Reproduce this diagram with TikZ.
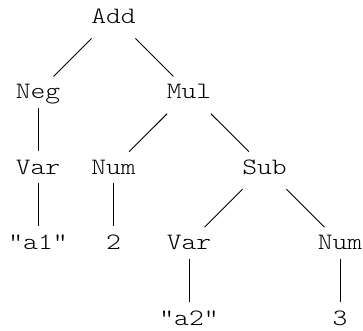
\documentclass[tikz,border=0pt]{standalone}
\usepackage{fontspec}
\setmonofont[FakeStretch=1.2]{Latin Modern Mono Light}
\begin{document}
\begin{tikzpicture}[x=1pt,y=-1pt,
  lbl/.style={font=\ttfamily\fontsize{23.5}{23.5}\selectfont, inner sep=0pt, text height=14pt, text depth=0pt, anchor=center},
  edge/.style={draw=black, line width=0.9pt},
  dg/.style={edge, shorten <=31pt, shorten >=22pt},
  vt/.style={edge, shorten <=16pt, shorten >=16.5pt}]
\useasboundingbox (0,0) rectangle (363,330);
\node[lbl] (add)  at (113.5,16.5) {Add};
\node[lbl] (neg)  at (38,91.9) {Neg};
\node[lbl] (mul)  at (189,91.9) {Mul};
\node[lbl] (var1) at (38,167.3) {Var};
\node[lbl] (num1) at (113.5,167.3) {Num};
\node[lbl] (sub)  at (264.5,167.3) {Sub};
\node[lbl] (a1)   at (38,242.7) {"a1"};
\node[lbl] (two)  at (113.5,242.7) {2};
\node[lbl] (var2) at (189,242.7) {Var};
\node[lbl] (num2) at (340,242.7) {Num};
\node[lbl] (a2)   at (189,318.1) {"a2"};
\node[lbl] (three) at (340,318.1) {3};
\draw[dg] (add.center) -- (neg.center);
\draw[dg] (add.center) -- (mul.center);
\draw[vt] (neg.center) -- (var1.center);
\draw[dg] (mul.center) -- (num1.center);
\draw[dg] (mul.center) -- (sub.center);
\draw[vt] (var1.center) -- (a1.center);
\draw[vt] (num1.center) -- (two.center);
\draw[dg] (sub.center) -- (var2.center);
\draw[dg] (sub.center) -- (num2.center);
\draw[vt] (var2.center) -- (a2.center);
\draw[vt] (num2.center) -- (three.center);
\end{tikzpicture}
\end{document}
